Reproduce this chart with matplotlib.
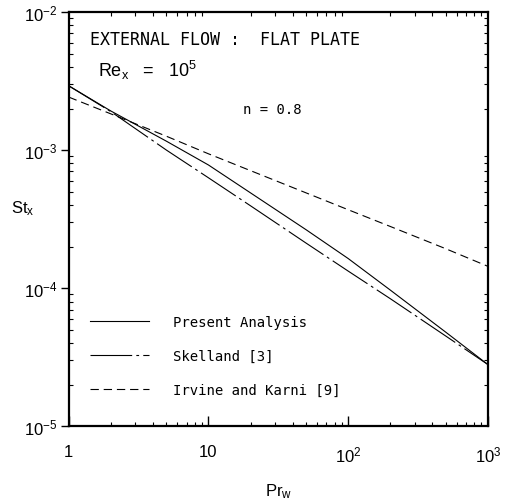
import numpy as np
import matplotlib
matplotlib.use('Agg')
import matplotlib.pyplot as plt
from matplotlib.ticker import LogLocator, NullFormatter, FixedLocator

# values (Pr_w, St_x)
pr = [1, 2, 5, 10, 20, 50, 100, 200, 500, 1000]
present = [2.92e-3, 1.92e-3, 1.16e-3, 7.8e-4, 4.9e-4, 2.65e-4, 1.64e-4, 9.7e-5, 4.8e-5, 2.8e-5]
skelland = [2.92e-3, 1.90e-3, 1.00e-3, 6.3e-4, 3.95e-4, 2.12e-4, 1.33e-4, 8.4e-5, 4.5e-5, 2.8e-5]
irvine = [2.42e-3, 1.83e-3, 1.26e-3, 9.4e-4, 7.1e-4, 4.9e-4, 3.7e-4, 2.8e-4, 1.93e-4, 1.44e-4]

labels = ['Present Analysis', 'Skelland [3]', 'Irvine and Karni [9]']
xtick_vals = [1, 10, 100, 1000]
xtick_text = ['1', '10', r'$\mathregular{10^2}$', r'$\mathregular{10^3}$']
ytick_vals = [1e-5, 1e-4, 1e-3, 1e-2]
ytick_text = [r'$\mathregular{10^{-5}}$', r'$\mathregular{10^{-4}}$',
              r'$\mathregular{10^{-3}}$', r'$\mathregular{10^{-2}}$']

plt.rcParams['font.family'] = ['Liberation Sans', 'DejaVu Sans']
plt.rcParams['lines.scale_dashes'] = False
mono = 'DejaVu Sans Mono'

fig = plt.figure(figsize=(5.06, 5.02), dpi=100)
ax = fig.add_axes([0.136, 0.149, 0.828, 0.825])

ax.plot(pr, present, color='black', lw=0.8, label=labels[0])
ax.plot(pr, skelland, color='black', lw=0.8, dashes=(30, 3, 2, 3), label=labels[1])
ax.plot(pr, irvine, color='black', lw=0.8, dashes=(6, 3.5), label=labels[2])

ax.set_xscale('log')
ax.set_yscale('log')
ax.set_xlim(1, 1000)
ax.set_ylim(1e-5, 1e-2)

ax.xaxis.set_major_locator(FixedLocator(xtick_vals))
ax.set_xticklabels(xtick_text)
ax.yaxis.set_major_locator(FixedLocator(ytick_vals))
ax.set_yticklabels(ytick_text)
ax.xaxis.set_minor_locator(LogLocator(base=10, subs=np.arange(2, 10)))
ax.yaxis.set_minor_locator(LogLocator(base=10, subs=np.arange(2, 10)))
ax.xaxis.set_minor_formatter(NullFormatter())
ax.yaxis.set_minor_formatter(NullFormatter())

ax.tick_params(axis='x', which='major', direction='in', length=7, width=1,
               labelsize=12, pad=13)
ax.tick_params(axis='y', which='major', direction='out', length=6, width=1,
               labelsize=12, pad=2)
ax.tick_params(which='minor', direction='in', length=3, width=0.8,
               top=True, right=True)

for sp in ax.spines.values():
    sp.set_linewidth(1.6)

ax.set_xlabel(r'$\mathregular{Pr_w}$', fontsize=12, labelpad=12)
ax.set_ylabel(r'$\mathregular{St_x}$', fontsize=12, rotation=0, labelpad=14)
ax.yaxis.set_label_coords(-0.11, 0.505)

ax.text(0.05, 0.935, 'EXTERNAL FLOW :  FLAT PLATE', transform=ax.transAxes,
        family=mono, fontsize=12, va='center')
ax.text(0.07, 0.862, r'$\mathregular{Re_x}$   =   $\mathregular{10^5}$',
        transform=ax.transAxes, fontsize=13, va='center')
ax.text(0.415, 0.765, 'n = 0.8', transform=ax.transAxes, family=mono,
        fontsize=10, va='center')

leg = ax.legend(loc='lower left', bbox_to_anchor=(0.02, 0.04), frameon=False,
                prop={'family': mono, 'size': 10}, handlelength=4.3,
                handletextpad=1.7, labelspacing=1.45)

fig.savefig('out.png', dpi=100)
